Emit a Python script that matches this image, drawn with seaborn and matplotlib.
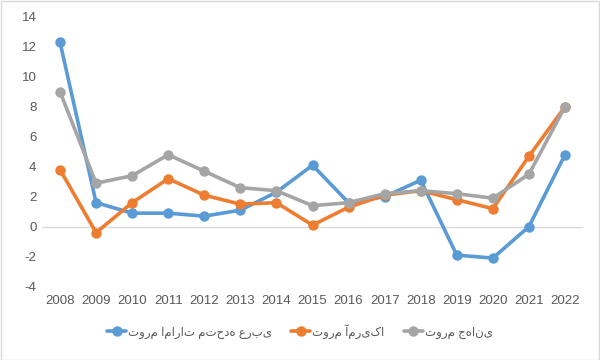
import matplotlib
matplotlib.use("Agg")
import matplotlib.pyplot as plt
import seaborn as sns
import pandas as pd
from matplotlib.patches import Rectangle

years = list(range(2008, 2023))
uae = [12.3, 1.6, 0.9, 0.9, 0.7, 1.1, 2.3, 4.1, 1.6, 2.0, 3.1, -1.9, -2.1, 0.0, 4.8]
usa = [3.8, -0.4, 1.6, 3.2, 2.1, 1.5, 1.6, 0.1, 1.3, 2.1, 2.4, 1.8, 1.2, 4.7, 8.0]
world = [9.0, 2.9, 3.4, 4.8, 3.7, 2.6, 2.4, 1.4, 1.6, 2.2, 2.4, 2.2, 1.9, 3.5, 8.0]
series_names = ["تورم امارات متحده عربی", "تورم آمریکا", "تورم جهانی"]
colors = ["#5B9BD5", "#ED7D31", "#A5A5A5"]
yticks = list(range(-4, 15, 2))

rows = []
for name, vals in zip(series_names, [uae, usa, world]):
    for y, v in zip(years, vals):
        rows.append({"year": y, "value": v, "series": name})
df = pd.DataFrame(rows)

sns.set_style("white")
plt.rcParams['font.family'] = ['Liberation Sans', 'DejaVu Sans']
plt.rcParams['axes.unicode_minus'] = False

fig = plt.figure(figsize=(6, 3.6), dpi=100)
ax = fig.add_axes([0.07, 0.204, 0.9017, 0.749])

sns.lineplot(data=df, x="year", y="value", hue="series", hue_order=series_names,
             palette=colors, marker="o", markersize=7.5, markeredgewidth=0,
             linewidth=2.6, ax=ax, legend=True)

ax.set_xlim(2007.5, 2022.5)
ax.set_ylim(-4, 14)
ax.set_xticks(years)
ax.set_xticklabels([str(y) for y in years])
ax.set_yticks(yticks)
ax.set_xlabel("")
ax.set_ylabel("")
for s in ax.spines.values():
    s.set_visible(False)
ax.axhline(0, color="#D9D9D9", linewidth=1, zorder=0)
ax.tick_params(axis="both", length=0, labelsize=9.5, labelcolor="#595959")
ax.tick_params(axis="x", pad=6)
ax.tick_params(axis="y", pad=4)

handles, labels = ax.get_legend_handles_labels()
ax.legend(handles, labels, loc="lower center",
          bbox_to_anchor=(0.5, 0.03), bbox_transform=fig.transFigure,
          ncol=3, frameon=False,
          fontsize=8.5, labelcolor="#595959", handlelength=1.6,
          columnspacing=1.6, handletextpad=0.2)

fig.patches.append(Rectangle((0.001, 0.001), 0.997, 0.996, transform=fig.transFigure,
                             fill=False, edgecolor="#D9D9D9", linewidth=1))

fig.savefig("out.png", dpi=100)
